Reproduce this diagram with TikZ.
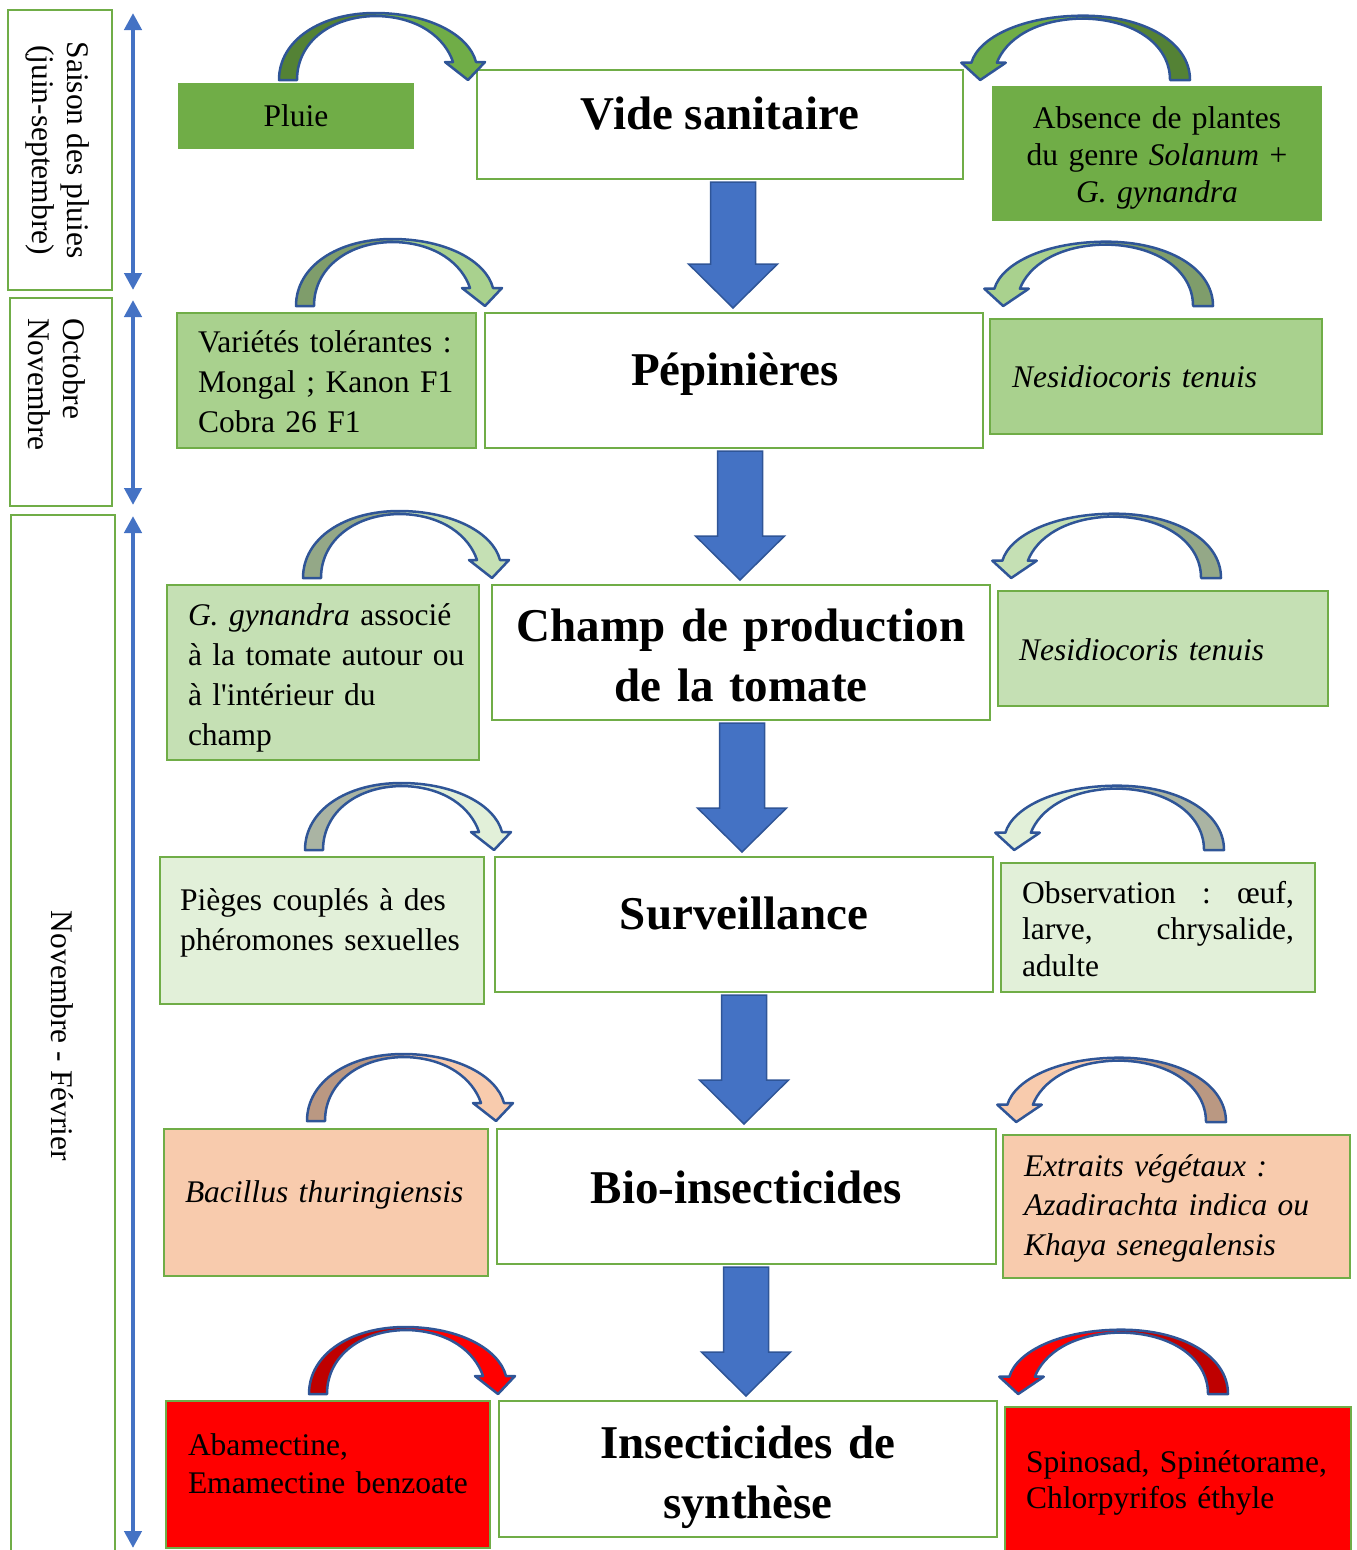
\documentclass[tikz,border=0pt]{standalone}
\usepackage{fontspec}
\setmainfont{Liberation Serif}[Ligatures=TeXOff]
\usetikzlibrary{calc,arrows.meta}
\definecolor{gA}{HTML}{70AD47}
\definecolor{gB}{HTML}{A9D18E}
\definecolor{gC}{HTML}{C5E0B4}
\definecolor{gD}{HTML}{E2F0D9}
\definecolor{peach}{HTML}{F8CBAD}
\definecolor{redA}{HTML}{FF0000}
\definecolor{gbord}{HTML}{70AD47}
\definecolor{blueA}{HTML}{4472C4}
\definecolor{blueD}{HTML}{2F5597}
\newcommand\bodyfont{\fontsize{31.5}{40}\selectfont}
\newcommand\titlefont{\fontsize{47}{60}\selectfont\bfseries}
\newcommand\curvarr[5]{%
\begin{scope}[shift={(#1,#2)}, xscale=#3, yscale=#4]
 \fill[#5] (0,0) .. controls (0,-40) and (42,-67) .. (96,-67) .. controls (150,-67) and (190,-45) .. (197,-18) -- (206,-18) -- (189,0) -- (166,-18) -- (174,-18) .. controls (166,-42) and (140,-63) .. (98,-64) .. controls (52,-64) and (18,-38) .. (18,0) -- cycle;
 \fill[#5!75!black] (0,0) .. controls (0,-40) and (42,-67) .. (96,-67) -- (98,-64) .. controls (52,-64) and (18,-38) .. (18,0) -- cycle;
 \draw[curveline] (0,0) .. controls (0,-40) and (42,-67) .. (96,-67) .. controls (150,-67) and (190,-45) .. (197,-18) -- (206,-18) -- (189,0) -- (166,-18) -- (174,-18) .. controls (166,-42) and (140,-63) .. (98,-64) .. controls (52,-64) and (18,-38) .. (18,0) -- cycle;
\end{scope}}
\newcommand\blockarr[3]{%
 \draw[blockarrow] let \p1=(#1.south), \p2=(#2.north) in
  (#3pt-22.5pt,\y1-3pt) -- (#3pt+22.5pt,\y1-3pt) -- (#3pt+22.5pt,\y2+49pt) -- (#3pt+44.5pt,\y2+49pt)
  -- (#3pt,\y2+5pt) -- (#3pt-44.5pt,\y2+49pt) -- (#3pt-22.5pt,\y2+49pt) -- cycle;}
\begin{document}
\begin{tikzpicture}[x=1pt,y=-1pt,
  every node/.style={inner sep=0pt, outer sep=0pt, font=\bodyfont},
  pbox/.style={draw=gbord, line width=2.2pt, fill=white, anchor=north west},
  sbox/.style={draw=gbord, line width=2.2pt, anchor=north west},
  dbl/.style={draw=blueA, line width=4.5pt, {Triangle[width=17pt,length=17pt]}-{Triangle[width=17pt,length=17pt]}},
  blockarrow/.style={fill=blueA, draw=blueD, line width=1.5pt, line join=miter},
  curveline/.style={draw=blueD, line width=2.5pt, line join=round},
  ttl/.style={font=\titlefont, anchor=base},
  ltxt/.style={anchor=base west, text width=#1, align=left},
]
\useasboundingbox (0,0) rectangle (1357,1550);

% period boxes
\node[pbox, minimum width=104pt, minimum height=280pt] (p1) at (8,10) {};
\node[pbox, minimum width=102pt, minimum height=208pt] (p2) at (10,298) {};
\node[pbox, minimum width=104pt, minimum height=1060pt] (p3) at (11,515) {};
\node[rotate=-90, align=center, font=\fontsize{31.5}{35}\selectfont] (tp1) at (58,150) {Saison des pluies\\(juin-septembre)};
\node[rotate=-90, align=left, anchor=west, font=\fontsize{31.5}{35}\selectfont] (tp2) at (57,318) {Octobre\\Novembre};
\node[rotate=-90] (tp3) at (62,1036) {Novembre - Février};

% double arrows
\coordinate (d1a) at (133,13); \coordinate (d1b) at (133,290);
\coordinate (d2a) at (133,300); \coordinate (d2b) at (133,505);
\coordinate (d3a) at (133,516); \coordinate (d3b) at (133,1548);
\draw[dbl] (d1a) -- (d1b);
\draw[dbl] (d2a) -- (d2b);
\draw[dbl] (d3a) -- (d3b);

% central boxes
\node[pbox, minimum width=486pt, minimum height=109pt] (c1) at (477,70) {};
\node[pbox, minimum width=498pt, minimum height=135pt] (c2) at (485,313) {};
\node[pbox, minimum width=498pt, minimum height=135pt] (c3) at (492,585) {};
\node[pbox, minimum width=498pt, minimum height=135pt] (c4) at (495,857) {};
\node[pbox, minimum width=499pt, minimum height=135pt] (c5) at (497,1129) {};
\node[pbox, minimum width=498pt, minimum height=136pt] (c6) at (499,1401) {};

\node[ttl] (tc1) at (720,129) {Vide sanitaire};
\node[ttl] (tc2) at (735,385) {Pépinières};
\node[ttl, text width=498pt, align=center] (tc3) at (741,641) {Champ de production\\de la tomate};
\node[ttl] (tc4) at (744,929) {Surveillance};
\node[ttl] (tc5) at (746,1203) {Bio-insecticides};
\node[ttl, text width=498pt, align=center] (tc6) at (748,1458) {Insecticides de\\synthèse};

% block arrows
\blockarr{c1}{c2}{733}
\blockarr{c2}{c3}{740}
\blockarr{c3}{c4}{742}
\blockarr{c4}{c5}{744}
\blockarr{c5}{c6}{746}

% left boxes
\node[anchor=north west, fill=gA, minimum width=236pt, minimum height=66pt] (l1) at (178,83) {};
\node[sbox, fill=gB, minimum width=299pt, minimum height=135pt] (l2) at (177,313) {};
\node[sbox, fill=gC, minimum width=312pt, minimum height=175pt] (l3) at (167,585) {};
\node[sbox, fill=gD, minimum width=324pt, minimum height=147pt] (l4) at (160,857) {};
\node[sbox, fill=peach, minimum width=324pt, minimum height=147pt] (l5) at (164,1129) {};
\node[sbox, fill=redA, minimum width=324pt, minimum height=147pt] (l6) at (166,1401) {};

\node[anchor=base] (tl1) at (296,126) {Pluie};
\node[ltxt=290pt] (tl2) at (198,352) {Variétés tolérantes :\\Mongal ; Kanon F1\\Cobra 26 F1};
\node[ltxt=300pt] (tl3) at (188,625) {\textit{G. gynandra} associé\\à la tomate autour ou\\à l'intérieur du\\champ};
\node[ltxt=310pt] (tl4) at (180,910) {Pièges couplés à des\\phéromones sexuelles};
\node[ltxt=310pt] (tl5) at (185,1202) {\textit{Bacillus thuringiensis}};
\node[ltxt=310pt, font=\fontsize{31.5}{38}\selectfont] (tl6) at (188,1455) {Abamectine,\\Emamectine benzoate};

% right boxes
\node[anchor=north west, fill=gA, minimum width=330pt, minimum height=135pt] (r1) at (992,86) {};
\node[sbox, fill=gB, minimum width=332pt, minimum height=115pt] (r2) at (990,319) {};
\node[sbox, fill=gC, minimum width=330pt, minimum height=115pt] (r3) at (998,591) {};
\node[sbox, fill=gD, minimum width=314pt, minimum height=129pt] (r4) at (1001,863) {};
\node[sbox, fill=peach, minimum width=347pt, minimum height=143pt] (r5) at (1003,1135) {};
\node[sbox, fill=redA, minimum width=346pt, minimum height=160pt] (r6) at (1005,1407) {};

\node[anchor=base, text width=330pt, align=center, font=\fontsize{31.5}{37}\selectfont] (tr1) at (1157,128) {Absence de plantes\\du genre \textit{Solanum} +\\\textit{G. gynandra}};
\node[ltxt=310pt] (tr2) at (1012,387) {\textit{Nesidiocoris tenuis}};
\node[ltxt=310pt] (tr3) at (1019,660) {\textit{Nesidiocoris tenuis}};
\node[ltxt=272pt, font=\fontsize{31.5}{36.5}\selectfont] (tr4) at (1022,903) {\leavevmode\hbox to 272pt{Observation\hfill:\hfill œuf,}\\\leavevmode\hbox to 272pt{larve,\hfill chrysalide,}\\adulte};
\node[ltxt=320pt, font=\fontsize{31.5}{39.5}\selectfont\itshape] (tr5) at (1024,1176) {Extraits végétaux :\\Azadirachta indica ou\\Khaya senegalensis};
\node[ltxt=320pt, font=\fontsize{31.5}{36}\selectfont] (tr6) at (1026,1472) {Spinosad, Spinétorame,\\Chlorpyrifos éthyle};

% curved arrows
\curvarr{279}{80}{1}{1}{gA}
\curvarr{296}{306}{1}{1}{gB}
\curvarr{303}{578}{1}{1}{gC}
\curvarr{305}{850}{1}{1}{gD}
\curvarr{307}{1121}{1}{1}{peach}
\curvarr{309}{1394}{1}{1}{redA}
\curvarr{1190}{80}{-1.11}{0.96}{gA}
\curvarr{1213}{306}{-1.11}{0.96}{gB}
\curvarr{1221}{578}{-1.11}{0.96}{gC}
\curvarr{1224}{850}{-1.11}{0.96}{gD}
\curvarr{1226}{1122}{-1.11}{0.96}{peach}
\curvarr{1228}{1394}{-1.11}{0.96}{redA}
\end{tikzpicture}
\end{document}
